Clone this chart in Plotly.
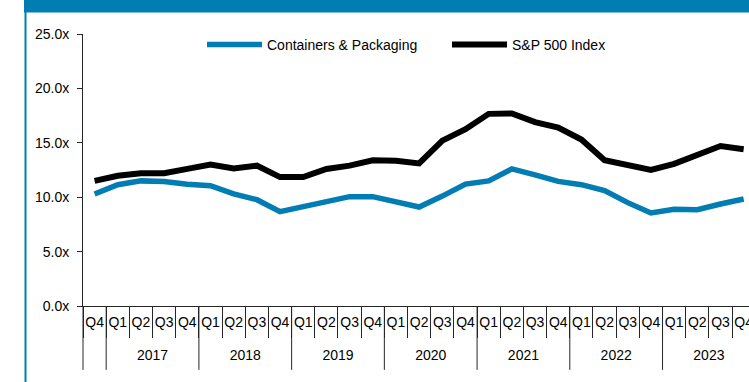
import plotly.graph_objects as go

year_labels = [" "] + [y for y in ["2017", "2018", "2019", "2020", "2021", "2022", "2023"] for _ in range(4)]
quarter_labels = ["Q4\u200b"] + ["Q1", "Q2", "Q3", "Q4"] * 7

containers = [10.3, 11.15, 11.5, 11.45, 11.2, 11.05, 10.3, 9.77, 8.67, 9.1, 9.5, 10.05, 10.05, 9.6,
              9.1, 10.1, 11.2, 11.5, 12.6, 12.06, 11.45, 11.15, 10.6, 9.5, 8.55, 8.9, 8.85, 9.37, 9.83]
sp500 = [11.5, 11.97, 12.2, 12.2, 12.6, 13.0, 12.65, 12.9, 11.85, 11.85, 12.6, 12.9, 13.4, 13.35,
         13.1, 15.2, 16.25, 17.66, 17.7, 16.9, 16.4, 15.3, 13.4, 13.0, 12.5, 13.07, 13.9, 14.7, 14.4]

BLUE = "#017DB3"
AXIS = "#262626"
FONT = "Liberation Sans"
XRANGE = [-0.5, 28.23]

# push the year level lower, as in the reference
year_text = ["<br>" + y for y in year_labels]

fig = go.Figure()
fig.add_trace(go.Scatter(x=[year_text, quarter_labels], y=containers, mode="lines",
                         name="Containers & Packaging", line=dict(color=BLUE, width=5.5)))
fig.add_trace(go.Scatter(x=[year_text, quarter_labels], y=sp500, mode="lines",
                         name="S&P 500 Index", line=dict(color="black", width=6)))

L, T, B = 83, 34, 75.5
H = 382
ph = H - T - B
pw = 749 - L

def px_x(x):
    return (x - L) / pw

def px_y(y):
    return (H - B - y) / ph

# header band and frame
fig.add_shape(type="rect", xref="paper", yref="paper", x0=px_x(24), x1=px_x(760), y0=px_y(12.5), y1=px_y(-5),
              fillcolor=BLUE, line_width=0, layer="above")
fig.add_shape(type="line", xref="paper", yref="paper", x0=px_x(25.5), x1=px_x(25.5), y0=px_y(-5), y1=px_y(390),
              line=dict(color=BLUE, width=2), layer="above")

# year-group dividers at the category boundaries where the year changes
boundaries = [-0.5] + [i - 0.5 for i in range(1, len(year_labels)) if year_labels[i] != year_labels[i - 1]]
for b in boundaries:
    xp = (b - XRANGE[0]) / (XRANGE[1] - XRANGE[0])
    fig.add_shape(type="line", xref="paper", yref="paper", x0=xp, x1=xp, y0=0, y1=px_y(370.5),
                  line=dict(color=AXIS, width=1), layer="above")

fig.update_layout(
    width=749, height=382,
    margin=dict(l=L, r=0, t=T, b=B, pad=0),
    paper_bgcolor="white", plot_bgcolor="white",
    font=dict(family=FONT, size=14, color="black"),
    showlegend=True,
    legend=dict(orientation="h", x=px_x(202), y=px_y(45), yanchor="middle", xanchor="left",
                itemwidth=55, font=dict(size=14), bgcolor="rgba(0,0,0,0)", entrywidth=175),
    xaxis=dict(type="multicategory", range=XRANGE, showline=True, linecolor=AXIS, linewidth=1,
               ticks="outside", ticklen=31, tickcolor=AXIS, tickson="boundaries",
               showdividers=False, tickangle=0,
               ticklabelstandoff=3,
               showgrid=False, zeroline=False, tickfont=dict(size=14)),
    yaxis=dict(range=[0, 25], tickvals=[0, 5, 10, 15, 20, 25],
               ticktext=["0.0x", "5.0x", "10.0x", "15.0x", "20.0x", "25.0x"],
               showline=True, linecolor=AXIS, linewidth=1, ticks="outside", ticklen=5,
               ticklabelstandoff=5,
               tickcolor=AXIS, showgrid=False, zeroline=False, tickfont=dict(size=14)),
)

fig.write_html("out.html")
